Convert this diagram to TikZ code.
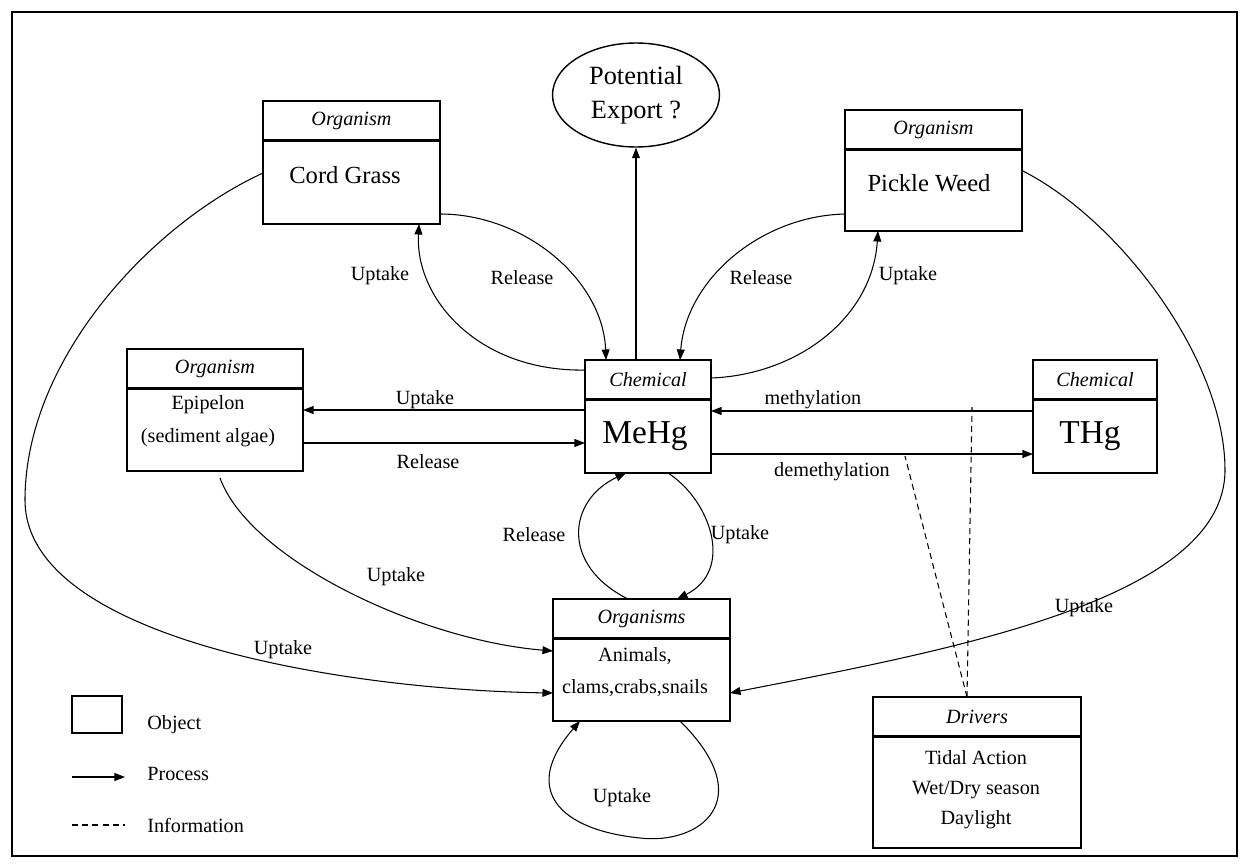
\documentclass[tikz,border=0pt]{standalone}
\usepackage{fontspec}
\setmainfont{Liberation Serif}
\usetikzlibrary{shapes.geometric,arrows.meta}
\tikzset{
  objbox/.style={
    draw, line width=0.8pt,
    inner sep=0, outer sep=0
  },
  hline/.style={line width=1.4pt},
  headtxt/.style={font=\fontsize{11.5}{14}\selectfont\itshape, inner sep=0},
  bodytxt/.style={font=\fontsize{11.5}{18.5}\selectfont, align=center, inner sep=0},
  bigtxt/.style={font=\fontsize{14}{17}\selectfont, inner sep=0},
  chemtxt/.style={font=\fontsize{19}{22}\selectfont, inner sep=0},
  lbl/.style={font=\fontsize{11.5}{14}\selectfont, inner sep=0},
  flow/.style={line width=0.6pt, -{Triangle[length=6pt,width=4.5pt]}},
  info/.style={line width=0.6pt, dash pattern=on 3.4pt off 2.4pt}
}

\begin{document}
\begin{tikzpicture}[x=0.02cm,y=-0.02cm]
\useasboundingbox (0,0) rectangle (1248,866);
\draw[line width=0.8pt] (12,12) rectangle (1237,856);

%%%%%%%%% boxes with a header
\foreach \n/\x/\y/\w/\h/\t in {
    cord/351.5/162.5/3.54/2.46/Organism,
    pickle/933.5/170.5/3.54/2.42/Organism,
    epi/215/410/3.52/2.44/Organism,
    mehg/648/416.5/2.52/2.26/Chemical,
    thg/1095/416.5/2.48/2.26/Chemical,
    orgs/641.5/660/3.54/2.44/Organisms,
    drv/977/772.5/4.16/3.02/Drivers}
{
  \node[objbox, minimum width=\w cm, minimum height=\h cm] (\n) at (\x,\y) {};
  \draw[hline] ([yshift=-0.79cm]\n.north west) -- ([yshift=-0.79cm]\n.north east);
  \node[headtxt] (\n-head) at ([yshift=-0.4cm]\n.north) {\t};
}

%%%%%%%%% body texts
\node[bigtxt] (cord-txt) at (345,175) {Cord Grass};
\node[bigtxt] (pickle-txt) at (929,183.5) {Pickle Weed};
\node[bodytxt] (epi-txt) at (208,421) {Epipelon\\(sediment algae)};
\node[chemtxt] (mehg-txt) at (645,436) {MeHg};
\node[chemtxt] (thg-txt) at (1090,436) {THg};
\node[bodytxt] (orgs-txt) at (635,672) {Animals,\\clams,crabs,snails};
\node[bodytxt, font=\fontsize{11.5}{17}\selectfont] (drv-txt) at (976,790) {Tidal Action\\Wet/Dry season\\Daylight};

%%% potential export
\node[draw, ellipse, line width=0.8pt, inner sep=0, minimum width=3.34cm, minimum height=2.08cm,
      font=\fontsize{15}{19}\selectfont, align=center] (export) at (636,95) {Potential\\Export ?};
\draw[flow] (export.south |- mehg.north) -- (export.south);

%%% cord grass
\draw[flow] ([yshift=-0.2cm]mehg.north west) .. controls (480,372) and (415,300) .. ([xshift=1.35cm]cord.south);
\draw[flow] ([yshift=0.2cm]cord.south east) .. controls (525,214) and (603,280) .. ([xshift=-0.84cm]mehg.north);

%%% pickle weed
\draw[flow] ([yshift=0.34cm]pickle.south west) .. controls (760,216) and (686,280) .. ([xshift=0.64cm]mehg.north);
\draw[flow] ([yshift=-0.36cm]mehg.north east) .. controls (795,375) and (872,320) .. ([xshift=-1.11cm]pickle.south);

%%% epipelon
\draw[flow] (mehg.west |- epi.east) -- (epi.east);
\coordinate (er) at ([yshift=-0.66cm]epi.east);
\draw[flow] (er) -- (er -| mehg.west);

%%% THg
\coordinate (me) at ([yshift=0.11cm]thg.west);
\draw[flow] (me) -- (me -| mehg.east);
\coordinate (de) at ([yshift=-0.75cm]mehg.east);
\draw[flow] (de) -- (de -| thg.west);

%%% organisms
\draw[flow] ([xshift=-0.27cm]orgs.north) .. controls (560,565) and (568,500) .. ([xshift=-0.44cm]mehg.south);
\draw[flow] ([xshift=0.4cm]mehg.south) .. controls (710,500) and (735,570) .. ([xshift=0.71cm]orgs.north);
\draw[flow] ([xshift=0.1cm,yshift=-0.14cm]epi.south) .. controls (250,560) and (420,640) .. ([yshift=0.18cm]orgs.west);
\draw[flow] ([yshift=-0.21cm]cord.west) .. controls (150,225) and (25,360) .. (25,500)
            .. controls (25,640) and (350,690) .. ([yshift=-0.66cm]orgs.west);
\draw[flow] (pickle.east) .. controls (1120,220) and (1225,360) .. (1225,470)
            .. controls (1225,600) and (950,650) .. ([yshift=-0.66cm]orgs.east);
\draw[flow] ([xshift=0.77cm]orgs.south) .. controls (760,800) and (700,845) .. (640,838)
            .. controls (560,830) and (520,790) .. ([xshift=-1.23cm]orgs.south);

%%% drivers
\coordinate (dtop) at ([xshift=-0.2cm]drv.north);
\draw[info] (dtop) -- ([xshift=-1.22cm,yshift=0.08cm]me);
\draw[info] (dtop) -- ([xshift=3.88cm,yshift=-0.04cm]de);

%%%%%%%%% labels
\node[lbl] (up1) at (380,276) {Uptake};
\node[lbl] (re1) at (522,278) {Release};
\node[lbl] (re2) at (761,278) {Release};
\node[lbl] (up2) at (908,276) {Uptake};
\node[lbl] (up3) at (425,400) {Uptake};
\node[lbl] (re3) at (428,462) {Release};
\node[lbl] (meth) at (813,400) {methylation};
\node[lbl] (demeth) at (832,472) {demethylation};
\node[lbl] (re4) at (534,535) {Release};
\node[lbl] (up4) at (740,535) {Uptake};
\node[lbl] (up5) at (396,577) {Uptake};
\node[lbl] (up6) at (283,650) {Uptake};
\node[lbl] (up7) at (1084,608) {Uptake};
\node[lbl] (up8) at (622,798) {Uptake};

%%LEGEND
\node[draw, line width=0.8pt, minimum width=1cm, minimum height=0.74cm] (legobj) at (97,714.5) {};
\node[lbl, anchor=west] (legobj-txt) at (147,725) {Object};
\coordinate (lp1) at (72,777);
\coordinate (lp2) at (125,777);
\draw[flow] (lp1) -- (lp2);
\node[lbl, anchor=west] (legproc-txt) at (147,774) {Process};
\coordinate (li1) at (72,825);
\coordinate (li2) at (125,825);
\draw[info] (li1) -- (li2);
\node[lbl, anchor=west] (leginfo-txt) at (147,825) {Information};

\end{tikzpicture}
\end{document}
